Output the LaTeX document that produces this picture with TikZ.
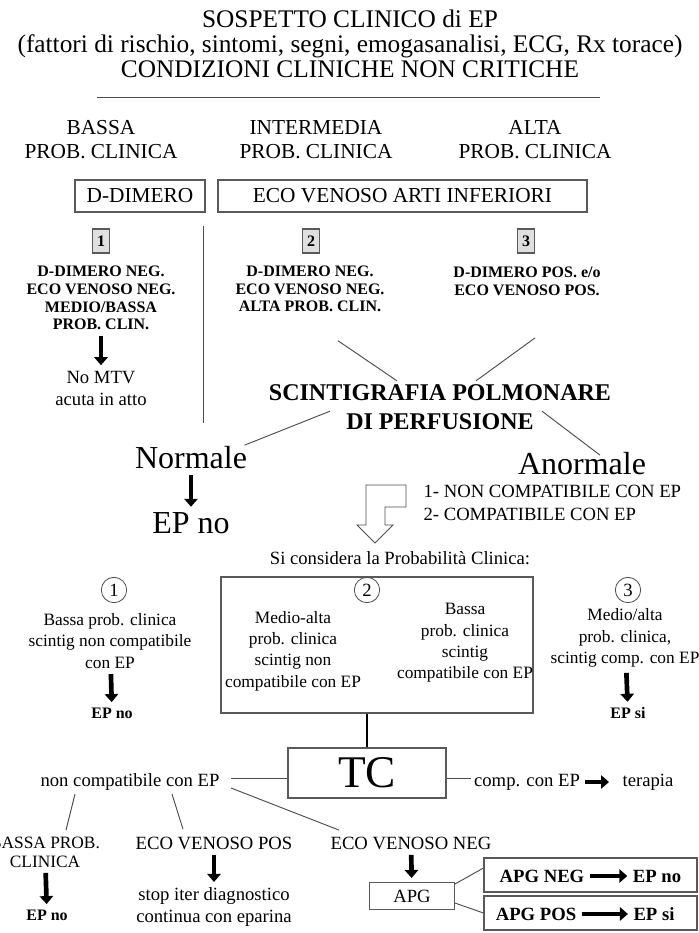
\documentclass[tikz,border=0pt]{standalone}
\usepackage{fontspec}
\setmainfont{Liberation Serif}
\usetikzlibrary{arrows.meta}

\begin{document}
\begin{tikzpicture}[x=0.75pt,y=-0.75pt,
  txt/.style={align=center,inner sep=1pt},
  ttl/.style={txt,font=\fontsize{19}{18.75}\selectfont},
  hd/.style={txt,font=\fontsize{16}{18}\selectfont},
  bsmall/.style={txt,font=\bfseries\fontsize{12}{13.3}\selectfont},
  med/.style={txt,font=\fontsize{13}{16}\selectfont},
  norm/.style={txt,font=\fontsize{14}{16.5}\selectfont},
  bnorm/.style={txt,font=\bfseries\fontsize{14}{16}\selectfont},
  bmed/.style={txt,font=\bfseries\fontsize{12}{14}\selectfont},
  large/.style={txt,font=\fontsize{24}{26}\selectfont},
  scint/.style={txt,font=\bfseries\fontsize{18}{21.75}\selectfont},
  box/.style={draw=gray!70!black,line width=0.8pt},
  numsq/.style={box,fill=gray!25,minimum width=12.75pt,minimum height=18pt,inner sep=0pt,font=\bfseries\fontsize{12}{14}\selectfont},
  numcirc/.style={circle,draw=gray!60!black,line width=0.6pt,fill=white,minimum size=19pt,inner sep=0pt,font=\fontsize{14}{16}\selectfont},
  link/.style={draw=gray!60!black,line width=0.7pt},
  fatarrow/.style={line width=3.5pt,-{Triangle[length=6pt,width=10pt]},shorten <=3pt,shorten >=3pt},
]

\useasboundingbox (0,0) rectangle (699,933);

% intestazione
\node[ttl] (titolo) at (350,44) {SOSPETTO CLINICO di EP\\(fattori di rischio, sintomi, segni, emogasanalisi, ECG, Rx torace)\\CONDIZIONI CLINICHE NON CRITICHE};
\draw[link] (97,97) -- (600,97);

% probabilita' clinica
\node[hd] (pbassa) at (101,140) {BASSA\\PROB. CLINICA};
\node[hd] (pinter) at (316,140) {INTERMEDIA\\PROB. CLINICA};
\node[hd] (palta) at (535,140) {ALTA\\PROB. CLINICA};

\node[box,hd,minimum width=97.5pt,minimum height=24pt] (ddimero) at (140,196) {D-DIMERO};
\node[box,hd,minimum width=276.75pt,minimum height=24pt] (ecoarti) at (402.5,196) {ECO VENOSO ARTI INFERIORI};

\node[numsq] (n1) at (101,241) {1};
\node[numsq] (n2) at (311,241) {2};
\node[numsq] (n3) at (526,241) {3};
\draw[link] (203,226) -- (203,423);

\node[bsmall] (r1) at (101,298) {D-DIMERO NEG.\\ECO VENOSO NEG.\\MEDIO/BASSA\\PROB. CLIN.};
\node[bsmall] (r2) at (310,289) {D-DIMERO NEG.\\ECO VENOSO NEG.\\ALTA PROB. CLIN.};
\node[bsmall] (r3) at (527,281) {D-DIMERO POS. e/o\\ECO VENOSO POS.};
\node[norm] (nomtv) at (101,388) {No MTV\\acuta in atto};
\draw[fatarrow] (r1) -- (nomtv);

% scintigrafia
\node[scint] (scint) at (440,407) {SCINTIGRAFIA POLMONARE\\DI PERFUSIONE};
\draw[link] ([shift={(28,27)}]r2.south) -- ([shift={(-43,-2)}]scint.north);
\draw[link] ([shift={(8,41)}]r3.south) -- ([shift={(36,-2)}]scint.north);

\node[large] (normale) at (191,458) {Normale};
\node[large] (epno) at (191,523) {EP no};
\draw[fatarrow] (normale) -- (epno);
\node[large] (anormale) at (582,464) {Anormale};
\draw[link] ([shift={(-110,-20)}]scint.south) -- ([shift={(-4,0)}]normale.north east);
\draw[link] ([shift={(102,-20)}]scint.south) -- ([shift={(18,4)}]anormale.north);

\node[norm,align=left,anchor=west,font=\fontsize{14}{17.25}\selectfont] (esiti) at (422,503) {1- NON COMPATIBILE CON EP\\2- COMPATIBILE CON EP};
\draw[link,line join=miter] (406,485) -- (366,485) -- (366,525) -- (357,525) -- (375,543)
  -- (393,525) -- (385,525) -- (385,507) -- (406,507) -- cycle;

\node[norm] (sicons) at (400,558) {Si considera la Probabilità Clinica:};

% tre casi
\node[box,minimum width=234pt,minimum height=102pt] (box2) at (377,645) {};
\node[numcirc] (c1) at (114,590) {1};
\node[numcirc] (c2) at (367,590) {2};
\node[numcirc] (c3) at (628,590) {3};

\node[med] (s1) at (110,641) {Bassa prob. clinica\\scintig non compatibile\\con EP};
\node[bmed] (s1fine) at (112,713) {EP no};
\draw[fatarrow] (s1) -- (s1fine);

\node[med] (s2a) at (293,651) {Medio-alta\\prob. clinica\\scintig non\\compatibile con EP};
\node[med] (s2b) at (465,643) {Bassa\\prob. clinica\\scintig\\compatibile con EP};

\node[med] (s3) at (625,638) {Medio/alta\\prob. clinica,\\scintig comp. con EP};
\node[bmed] (s3fine) at (628,713) {EP si};
\draw[fatarrow] (s3) -- (s3fine);

% TC
\node[box,minimum width=118.5pt,minimum height=37.5pt,font=\fontsize{34}{36}\selectfont] (tc) at (367,773) {TC};
\draw[line width=1.2pt] (tc.north |- box2.south) -- (tc.north);

\node[norm] (ncomp) at (130,782) {non compatibile con EP};
\node[norm] (comp) at (527,782) {comp. con EP};
\node[norm] (terapia) at (648,782) {terapia};
\draw[link] ([shift={(10,-4)}]ncomp.east) -- ([shift={(0,5)}]tc.west);
\draw[link] ([shift={(0,5)}]tc.east) -- ([shift={(-2,-4)}]comp.west);
\draw[fatarrow,shorten >=9pt] (comp) -- (terapia);

% rami finali
\node[med,font=\fontsize{13}{14.25}\selectfont] (bbassa) at (45,852) {BASSA PROB.\\CLINICA};
\node[bmed] (bfine) at (47,915) {EP no};
\draw[fatarrow] (bbassa) -- (bfine);
\node[norm] (ecopos) at (214,843) {ECO VENOSO POS};
\node[norm] (stop) at (214,907) {stop iter diagnostico\\continua con eparina};
\draw[fatarrow] (ecopos) -- (stop);
\node[norm] (econeg) at (411,843) {ECO VENOSO NEG};
\node[box,norm,minimum width=63.75pt,minimum height=20.25pt] (apg) at (412,896) {APG};
\draw[fatarrow] (econeg) -- (apg);

\draw[link] ([shift={(-55,2)}]ncomp.south) -- ([shift={(21,-5)}]bbassa.north);
\draw[link] ([shift={(42,2)}]ncomp.south) -- ([shift={(-31,-6)}]ecopos.north);
\draw[link] ([shift={(10,6)}]ncomp.east) -- ([shift={(-72,-5)}]econeg.north);

\node[box,minimum width=159.75pt,minimum height=25.5pt] (apgneg) at (590.5,875) {};
\node[box,minimum width=159.75pt,minimum height=25.5pt] (apgpos) at (590.5,913) {};
\node[bnorm] (negsx) at (542,876) {APG NEG};
\node[bnorm] (negdx) at (657,876) {EP no};
\draw[fatarrow] (negsx) -- (negdx);
\node[bnorm] (possx) at (536,914) {APG POS};
\node[bnorm] (posdx) at (654,914) {EP si};
\draw[fatarrow] (possx) -- (posdx);
\draw[link] ([shift={(0,2)}]apg.north east) -- ([shift={(0,-7)}]apgneg.west);
\draw[link] ([shift={(0,-7)}]apg.south east) -- (apgpos.west);

\end{tikzpicture}
\end{document}
